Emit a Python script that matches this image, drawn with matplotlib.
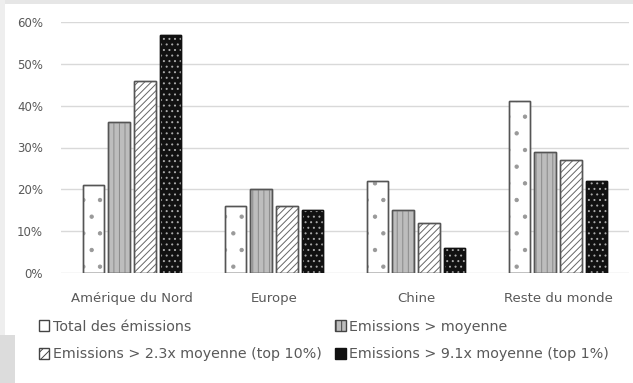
import matplotlib
matplotlib.use("Agg")
import matplotlib.pyplot as plt
from matplotlib.patches import Patch, Rectangle
import numpy as np

categories = ["Amérique du Nord", "Europe", "Chine", "Reste du monde"]
series_names = ["Total des émissions", "Emissions > moyenne",
                "Emissions > 2.3x moyenne (top 10%)", "Emissions > 9.1x moyenne (top 1%)"]
total = [21, 16, 22, 41]
above_mean = [36, 20, 15, 29]
top10 = [46, 16, 12, 27]
top1 = [57, 15, 6, 22]
yticks = [0, 10, 20, 30, 40, 50, 60]

plt.rcParams['font.family'] = ['DejaVu Sans']
plt.rcParams['hatch.linewidth'] = 0.7

W, H = 633, 383
fig = plt.figure(figsize=(W / 100, H / 100), dpi=100)
fig.patch.set_facecolor('white')

# light gray frame remnants
fig.add_artist(Rectangle((0, 1 - 4 / H), 1, 4 / H, transform=fig.transFigure,
                         facecolor='#e6e6e6', edgecolor='none'))
fig.add_artist(Rectangle((0, 0), 5 / W, 1, transform=fig.transFigure,
                         facecolor='#eeeeee', edgecolor='none'))
fig.add_artist(Rectangle((0, 0), 15 / W, 48 / H, transform=fig.transFigure,
                         facecolor='#dcdcdc', edgecolor='none'))

ax = fig.add_axes([61 / W, (H - 273) / H, (629 - 61) / W, (273 - 22) / H])
x = np.arange(len(categories))
step = 0.183
bw = 0.148

# style: (face, border, hatch, hatchcolor)
styles = [
    ('white', '#555555', '.', '#999999'),
    ('#bdbdbd', '#555555', '|||', '#8a8a8a'),
    ('white', '#555555', '/////', '#666666'),
    ('#111111', '#111111', '...', '#aaaaaa'),
]
data = [total, above_mean, top10, top1]
for i, (vals, st) in enumerate(zip(data, styles)):
    pos = x + (i - 1.5) * step
    face, border, hatch, hc = st
    ax.bar(pos, vals, bw, color=face, edgecolor=border, linewidth=1.0, zorder=2)
    ax.bar(pos, vals, bw, color='none', edgecolor=hc, linewidth=0, hatch=hatch, zorder=3)
    ax.bar(pos, vals, bw, color='none', edgecolor=border, linewidth=1.0, zorder=4)

ax.set_ylim(0, 60)
ax.set_xlim(-0.5, len(categories) - 0.5)
ax.set_yticks(yticks)
ax.set_yticklabels([f"{v}%" for v in yticks])
ax.set_xticks(x)
ax.set_xticklabels(categories)
ax.yaxis.grid(True, color='#d9d9d9', linewidth=1.0, zorder=0)
ax.set_axisbelow(True)
for s in ax.spines.values():
    s.set_visible(False)
ax.tick_params(axis='both', length=0, colors='#595959')
ax.tick_params(axis='y', labelsize=8.5, pad=13)
ax.tick_params(axis='x', labelsize=9.5, pad=14)

handles = [
    Patch(facecolor='white', edgecolor='#444444', linewidth=1),
    Patch(facecolor='white', edgecolor='#444444', hatch='////', linewidth=1),
    Patch(facecolor='#bdbdbd', edgecolor='#444444', hatch='|||', linewidth=1),
    Patch(facecolor='#111111', edgecolor='#111111', linewidth=1),
]
labels = [series_names[0], series_names[2], series_names[1], series_names[3]]
leg = fig.legend(handles, labels, ncol=2, loc='upper left',
                 bbox_to_anchor=(33 / W, (H - 314) / H), frameon=False,
                 fontsize=10.3, handlelength=0.75, handleheight=0.8,
                 handletextpad=0.25, columnspacing=0.9, labelspacing=0.95,
                 borderaxespad=0, labelcolor='#595959')

fig.savefig("out.png", dpi=100, facecolor='white')
